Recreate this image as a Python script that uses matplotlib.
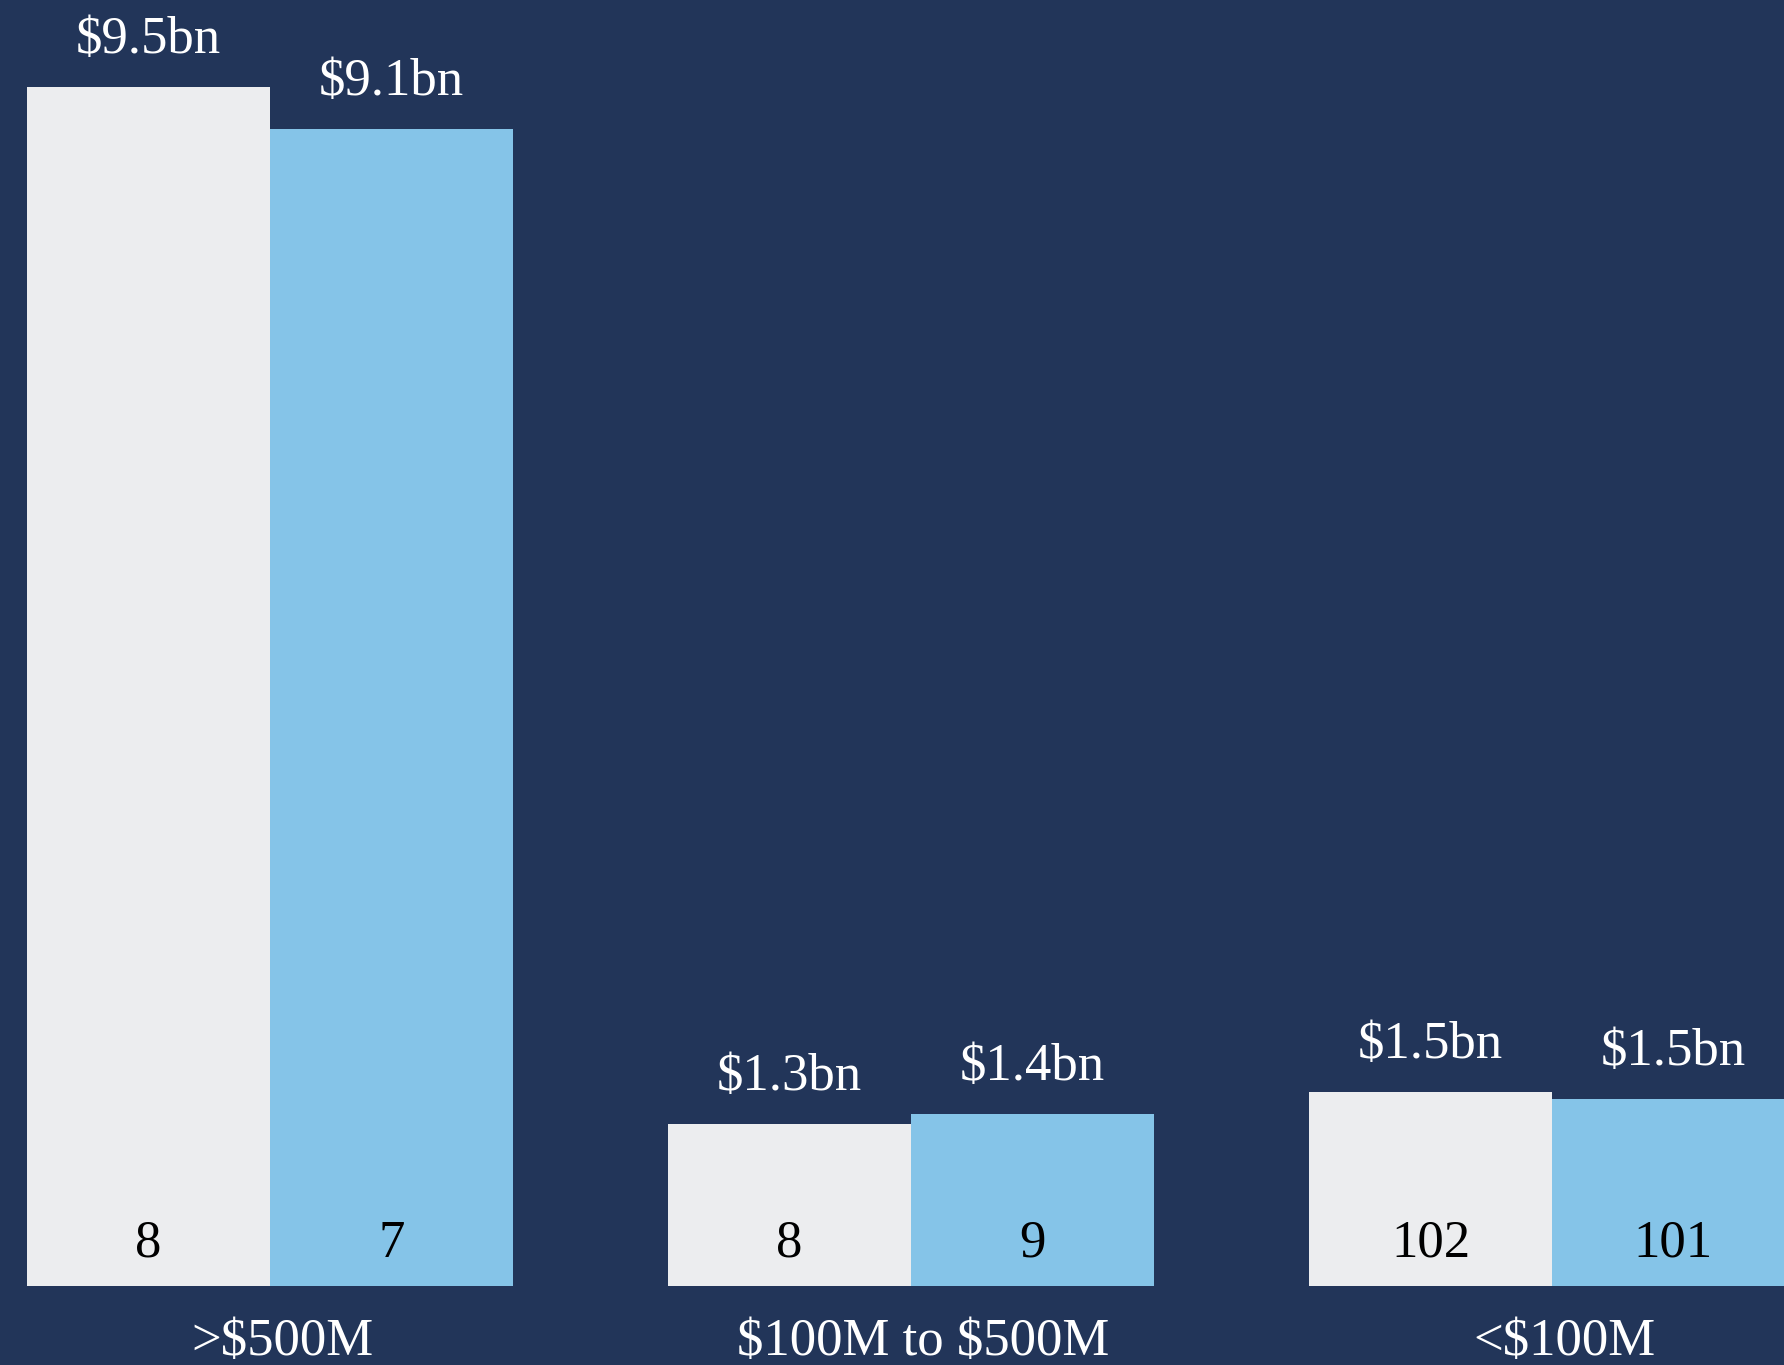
import numpy as np
import matplotlib.pyplot as plt

categories = [">$500M", "$100M to $500M", "<$100M"]
values_a = [9.50, 1.28, 1.54]
values_b = [9.17, 1.36, 1.48]
labels_a = ["$9.5bn", "$1.3bn", "$1.5bn"]
labels_b = ["$9.1bn", "$1.4bn", "$1.5bn"]
counts_a = [8, 8, 102]
counts_b = [7, 9, 101]

bg = "#223559"
col_a = "#ECEDEF"
col_b = "#85C4E8"

plt.rcParams["font.family"] = ["Liberation Serif", "DejaVu Serif"]
plt.rcParams["text.parse_math"] = False

fig = plt.figure(figsize=(17.84, 13.65), dpi=100, facecolor=bg)
ax = fig.add_axes([0, 79 / 1365, 1, 1286 / 1365])
ax.set_facecolor(bg)
ax.set_axis_off()

x = np.arange(len(categories))
w = 0.379
bars_a = ax.bar(x - w / 2, values_a, w, color=col_a, linewidth=0)
bars_b = ax.bar(x + w / 2, values_b, w, color=col_b, linewidth=0)

ax.set_xlim(-0.4212, 2.362)
ax.set_ylim(0, 10.19)

fs = 38
for bars, labels, counts in [(bars_a, labels_a, counts_a), (bars_b, labels_b, counts_b)]:
    for b, lab, n in zip(bars, labels, counts):
        cx = b.get_x() + b.get_width() / 2
        ax.annotate(lab, (cx, b.get_height()), xytext=(0, 24.5), textcoords="offset points",
                    ha="center", va="baseline", color="white", fontsize=fs, clip_on=False)
        ax.annotate(str(n), (cx, 0), xytext=(0, 21), textcoords="offset points",
                    ha="center", va="baseline", color="black", fontsize=fs)

# category names sit a little right of the group centre in the original
for xi, cat in zip(x, categories):
    ax.annotate(cat, (xi, 0), xytext=(9, -50), textcoords="offset points",
                ha="center", va="baseline", color="white", fontsize=fs, annotation_clip=False)

fig.savefig("out.png", dpi=100, facecolor=bg)
